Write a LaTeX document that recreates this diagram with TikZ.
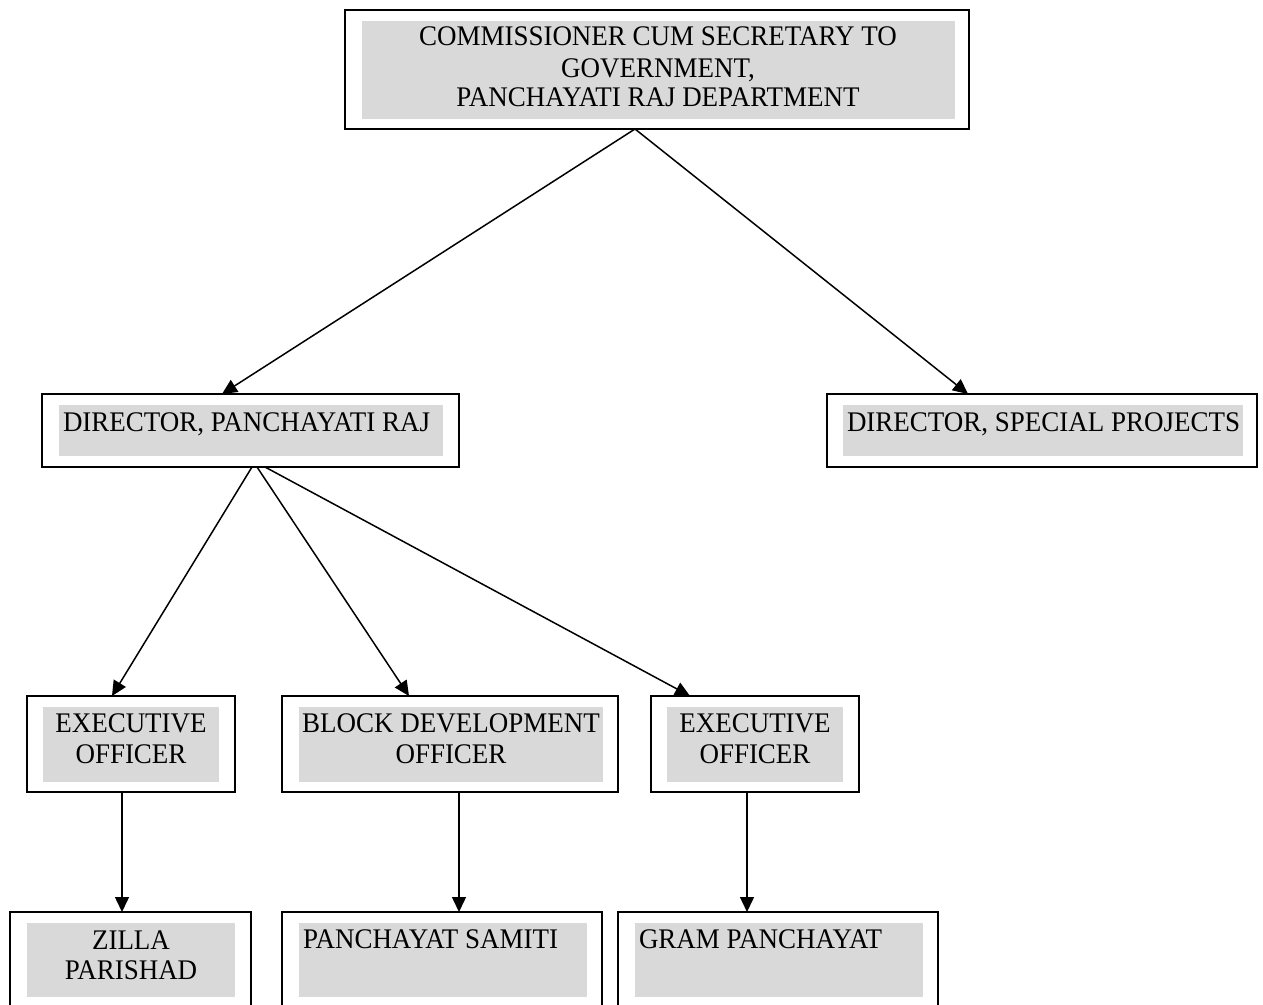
\documentclass[tikz,border=0pt]{standalone}
\usepackage{fontspec}
\setmainfont{Liberation Serif}[FakeStretch=0.95]
\usetikzlibrary{arrows.meta,fit,calc}
\definecolor{boxgray}{RGB}{217,217,217}
\tikzset{
  outerbox/.style={draw=black, line width=1pt, inner sep=0pt, outer sep=0pt, fill=white},
  innerbox/.style={fill=boxgray, draw=none, inner sep=0pt, outer sep=0pt},
  lbl/.style={inner sep=0pt, outer sep=0pt, font=\fontsize{14.2}{16}\selectfont},
  arr/.style={line width=0.75pt, -{Triangle[length=7.5pt,width=7pt]}}
}
\begin{document}
\begin{tikzpicture}[x=0.5pt,y=-0.5pt]
\useasboundingbox (0,0) rectangle (1263,1005);
\clip (0,0) rectangle (1263,1005);
% boxes
\node[outerbox, fit={(345,10) (969,129)}] (top) {};
\node[innerbox, fit={(362,21) (955,119)}] (topg) {};
\node[outerbox, fit={(42,394) (459,467)}] (dpr) {};
\node[innerbox, fit={(59,405) (443,456)}] (dprg) {};
\node[outerbox, fit={(827,394) (1257,467)}] (dsp) {};
\node[innerbox, fit={(843,405) (1243,456)}] (dspg) {};
\node[outerbox, fit={(27,696) (235,792)}] (eoa) {};
\node[innerbox, fit={(43,707) (219,782)}] (eoag) {};
\node[outerbox, fit={(282,696) (618,792)}] (bdo) {};
\node[innerbox, fit={(299,707) (603,782)}] (bdog) {};
\node[outerbox, fit={(651,696) (859,792)}] (eob) {};
\node[innerbox, fit={(667,707) (843,782)}] (eobg) {};
\node[outerbox, fit={(10,912) (251,1012)}] (zp) {};
\node[innerbox, fit={(27,923) (235,997)}] (zpg) {};
\node[outerbox, fit={(282,912) (602,1012)}] (ps) {};
\node[innerbox, fit={(299,923) (587,997)}] (psg) {};
\node[outerbox, fit={(618,912) (938,1012)}] (gp) {};
\node[innerbox, fit={(635,923) (923,997)}] (gpg) {};
% texts
\node[lbl, anchor=base] (topa) at (658,46) {COMMISSIONER CUM SECRETARY TO};
\node[lbl, anchor=base] (topb) at (658,78) {GOVERNMENT,};
\node[lbl, anchor=base] (topc) at (658,107) {PANCHAYATI RAJ DEPARTMENT};
\node[lbl, anchor=base west] (dprt) at (63,431) {DIRECTOR, PANCHAYATI RAJ};
\node[lbl, anchor=base west] (dspt) at (847,431) {DIRECTOR, SPECIAL PROJECTS};
\node[lbl, anchor=base] (eoaa) at (131,732) {EXECUTIVE};
\node[lbl, anchor=base] (eoab) at (131,763) {OFFICER};
\node[lbl, anchor=base] (bdoa) at (451,732) {BLOCK DEVELOPMENT};
\node[lbl, anchor=base] (bdob) at (451,763) {OFFICER};
\node[lbl, anchor=base] (eoba) at (755,732) {EXECUTIVE};
\node[lbl, anchor=base] (eobb) at (755,763) {OFFICER};
\node[lbl, anchor=base] (zpa) at (131,949) {ZILLA};
\node[lbl, anchor=base] (zpb) at (131,979) {PARISHAD};
\node[lbl, anchor=base west] (pst) at (303,948) {PANCHAYAT SAMITI};
\node[lbl, anchor=base west] (gpt) at (639,948) {GRAM PANCHAYAT};
% connectors
\draw[arr] ($(top.south west)+(290,0)$) -- ($(dpr.north west)+(180,0)$);
\draw[arr] ($(top.south west)+(290,0)$) -- ($(dsp.north west)+(141,0)$);
\draw[arr] ($(dpr.south west)+(210,0)$) -- ($(eoa.north west)+(85,0)$);
\draw[arr] ($(dpr.south west)+(215,0)$) -- ($(bdo.north west)+(127,0)$);
\draw[arr] ($(dpr.south west)+(223,0)$) -- ($(eob.north west)+(39,0)$);
\draw[arr] ($(eoa.south west)+(95,0)$) -- ($(zp.north west)+(112,0)$);
\draw[arr] ($(bdo.south west)+(177,0)$) -- ($(ps.north west)+(177,0)$);
\draw[arr] ($(eob.south west)+(96,0)$) -- ($(gp.north west)+(129,0)$);
\end{tikzpicture}
\end{document}
